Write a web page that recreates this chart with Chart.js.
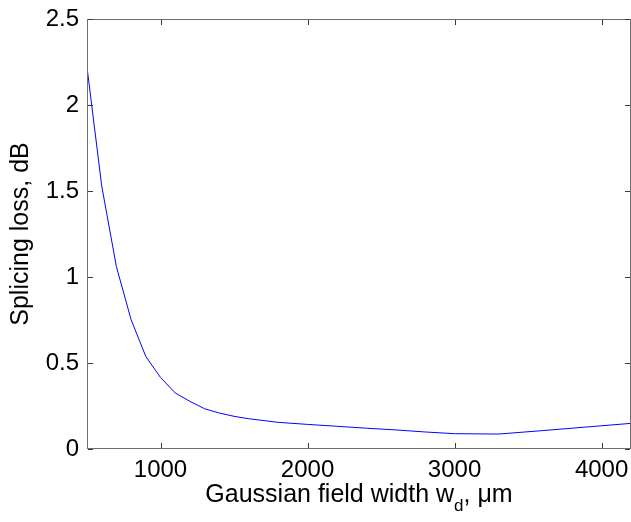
<!DOCTYPE html>
<html>
<head>
<meta charset="utf-8">
<script src="https://cdn.jsdelivr.net/npm/chart.js@4.4.0/dist/chart.umd.min.js"></script>
<style>
  body { margin: 0; background: #fff; }
</style>
</head>
<body>
<canvas id="loss-chart" width="631" height="522"></canvas>
<script>
// field width (um) vs splicing loss (dB)
var widths = [500, 600, 700, 800, 900, 1000, 1100, 1200, 1300, 1400, 1500, 1600,
              1800, 2000, 2200, 2400, 2600, 2800, 3000, 3300, 3600, 3900, 4200];
var losses = [2.22, 1.53, 1.06, 0.752, 0.538, 0.416, 0.326, 0.277, 0.234, 0.209, 0.19, 0.176,
              0.155, 0.143, 0.132, 0.121, 0.111, 0.099, 0.089, 0.087, 0.107, 0.128, 0.149];
var xTicks = [1000, 2000, 3000, 4000];
var yTicks = [0, 0.5, 1, 1.5, 2, 2.5];
var xTitle = ['Gaussian field width w', 'd', ', \u03bcm'];
var yTitle = 'Splicing loss, dB';

var FONT = '"Liberation Sans", Arial, sans-serif';

// matlab style box with inward ticks + x title with subscript
var axesBox = {
  id: 'axesBox',
  afterDraw: function(chart) {
    var ctx = chart.ctx;
    var a = chart.chartArea;
    var xs = chart.scales.x, ys = chart.scales.y;
    ctx.save();
    ctx.lineWidth = 1;
    ctx.strokeStyle = '#6e6e6e';
    ctx.strokeRect(a.left + 0.5, a.top + 0.5, a.right - a.left - 1, a.bottom - a.top - 1);

    ctx.strokeStyle = '#3a3a3a';
    ctx.beginPath();
    xTicks.forEach(function(v) {
      var px = Math.round(xs.getPixelForValue(v)) + 0.5;
      ctx.moveTo(px, a.bottom - 1); ctx.lineTo(px, a.bottom - 6);
      ctx.moveTo(px, a.top + 1); ctx.lineTo(px, a.top + 6);
    });
    yTicks.forEach(function(v) {
      var py = Math.round(ys.getPixelForValue(v)) + 0.5;
      ctx.moveTo(a.left + 1, py); ctx.lineTo(a.left + 6, py);
      ctx.moveTo(a.right - 1, py); ctx.lineTo(a.right - 6, py);
    });
    ctx.stroke();

    // x title
    var big = '25px ' + FONT, small = '17px ' + FONT;
    ctx.fillStyle = '#000';
    ctx.textBaseline = 'alphabetic';
    ctx.textAlign = 'left';
    ctx.font = big;
    var w0 = ctx.measureText(xTitle[0]).width;
    var w2 = ctx.measureText(xTitle[2]).width;
    ctx.font = small;
    var w1 = ctx.measureText(xTitle[1]).width;
    var x = (a.left + a.right) / 2 - (w0 + w1 + w2) / 2;
    var base = 502;
    ctx.font = big;
    ctx.fillText(xTitle[0], x, base);
    ctx.font = small;
    ctx.fillText(xTitle[1], x + w0, base + 9);
    ctx.font = big;
    ctx.fillText(xTitle[2], x + w0 + w1, base);
    ctx.restore();
  }
};

var plain = function(value) { return String(value); };

var ctx = document.getElementById('loss-chart');
var lossChart = new Chart(ctx, {
  type: 'line',
  data: {
    datasets: [{
      label: 'Splicing loss',
      data: widths.map(function(w, i) { return {x: w, y: losses[i]}; }),
      borderColor: '#0000ff',
      borderWidth: 1,
      pointRadius: 0,
      fill: false,
      tension: 0
    }]
  },
  options: {
    responsive: false,
    animation: false,
    events: [],
    layout: { padding: { top: 19, right: 0, left: 0, bottom: 0 } },
    plugins: { legend: { display: false }, tooltip: { enabled: false } },
    scales: {
      x: {
        type: 'linear',
        min: 500,
        max: 4200,
        afterBuildTicks: function(axis) {
          axis.ticks = xTicks.map(function(v) { return {value: v}; });
        },
        afterFit: function(axis) {
          axis.height = 73;
          axis.paddingLeft = 0;
          axis.paddingRight = 0;
        },
        grid: { display: false, drawTicks: false },
        border: { display: false },
        ticks: { color: '#000', padding: 7, callback: plain, font: { family: FONT, size: 24 } }
      },
      y: {
        min: 0,
        max: 2.5,
        afterBuildTicks: function(axis) {
          axis.ticks = yTicks.map(function(v) { return {value: v}; });
        },
        afterFit: function(axis) {
          axis.width = 87;
          axis.paddingTop = 0;
          axis.paddingBottom = 0;
        },
        grid: { display: false, drawTicks: false },
        border: { display: false },
        ticks: { color: '#000', padding: 8, callback: plain, font: { family: FONT, size: 24 } },
        title: {
          display: true,
          text: yTitle,
          color: '#000',
          padding: { top: 9, bottom: 0 },
          font: { family: FONT, size: 25, lineHeight: 1 }
        }
      }
    }
  },
  plugins: [axesBox]
});
</script>
</body>
</html>
